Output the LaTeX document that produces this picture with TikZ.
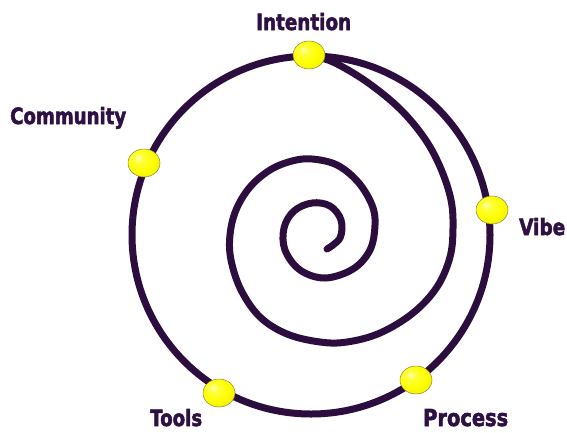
\documentclass[tikz,border=0pt]{standalone}
\usepackage{fontspec}
\setmainfont{DejaVu Sans}
\newfontfamily\labfont{DejaVu Sans}[BoldFeatures={FakeBold=2.5}]
\usepackage{graphicx}
\usetikzlibrary{shapes.geometric}
\definecolor{ink}{RGB}{44,14,62}
\definecolor{txt}{RGB}{46,16,66}
\pgfdeclareradialshading{yball}{\pgfpoint{-10bp}{10bp}}{%
  color(0bp)=(yellow!25!white);
  color(7bp)=(yellow!75!white);
  color(20bp)=(yellow);
  color(36bp)=(yellow!92!black);
  color(50bp)=(yellow!62!black)}
\tikzset{
  track/.style={draw=ink, line width=7pt, line cap=round, line join=round},
  ballnode/.style={ellipse, minimum width=32pt, minimum height=28pt, inner sep=0pt,
    shading=yball, draw=yellow!45!black, line width=0.5pt},
  lab/.style={text=txt, font=\labfont\bfseries, inner sep=0pt, anchor=base west}
}
\newcommand{\lbl}[2]{\resizebox{#1}{17pt}{#2}}
\begin{document}
\begin{tikzpicture}[x=1pt,y=-1pt]
\useasboundingbox (0,0) rectangle (567,432);
\coordinate (c) at (311,235);
% outer circle
\draw[track] (c) circle[radius=179];
% spiral
\draw[track] plot[smooth, tension=0.6] coordinates {
 (311,56) (333,62) (367,82) (400,109) (425,139) (441,169) (451,200)
 (453,228) (450,257) (437,287) (413,313) (380,333) (347,342) (320,342)
 (287,334) (260,317) (241,290) (231,260) (230,235) (236,210) (250,187)
 (270,170) (292,161) (312,159) (337,165) (358,182) (372,205) (375,225)
 (370,250) (353,269) (325,278) (300,270) (285,250) (284,228) (294,211)
 (312,203) (330,206) (341,220) (340,238) (327,249)};
% balls
\node[ballnode] (bint) at (309,55) {};
\node[ballnode] (bcom) at (144,163) {};
\node[ballnode] (bvib) at (492,210) {};
\node[ballnode] (bpro) at (416,380) {};
\node[ballnode] (btoo) at (219,393) {};
% labels
\node[lab] (lint) at (256,30) {\lbl{95pt}{Intention}};
\node[lab] (lcom) at (10,124) {\lbl{116pt}{Community}};
\node[lab] (lvib) at (519,235) {\lbl{46pt}{Vibe}};
\node[lab] (ltoo) at (150,426) {\lbl{52pt}{Tools}};
\node[lab] (lpro) at (423,426) {\lbl{85pt}{Process}};
\end{tikzpicture}
\end{document}
